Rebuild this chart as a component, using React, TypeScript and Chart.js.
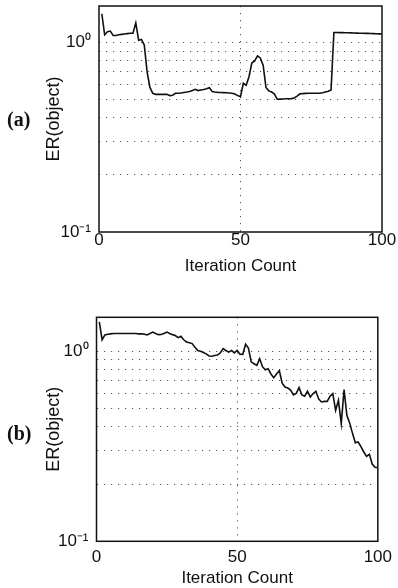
import React, { useEffect, useRef } from 'react';
import { Chart, registerables } from 'chart.js';

Chart.register(...registerables);

// Iteration index (x) shared by both panels
const iterations: number[] = Array.from({ length: 100 }, (_, i) => i + 1);

// Panel (a) ER(object) values
const erA: number[] = [
  1.42, 1.10, 1.14, 1.15, 1.09, 1.09, 1.10, 1.105, 1.11, 1.115,
  1.12, 1.12, 1.27, 1.03, 1.04, 0.97, 0.70, 0.58, 0.54, 0.533,
  0.533, 0.533, 0.533, 0.533, 0.525, 0.527, 0.54, 0.54, 0.542, 0.545,
  0.548, 0.552, 0.558, 0.567, 0.558, 0.562, 0.565, 0.57, 0.578, 0.552,
  0.548, 0.546, 0.545, 0.544, 0.543, 0.542, 0.54, 0.535, 0.525, 0.518,
  0.61, 0.595, 0.66, 0.78, 0.80, 0.85, 0.83, 0.76, 0.58, 0.556,
  0.548, 0.535, 0.502, 0.503, 0.504, 0.505, 0.505, 0.506, 0.51, 0.522,
  0.536, 0.538, 0.539, 0.54, 0.54, 0.54, 0.54, 0.54, 0.543, 0.548,
  0.553, 0.562, 1.13, 1.13, 1.128, 1.128, 1.127, 1.126, 1.125, 1.124,
  1.122, 1.12, 1.12, 1.119, 1.118, 1.116, 1.115, 1.113, 1.112, 1.11,
];

// Panel (b) ER(object) values
const erB: number[] = [
  1.43, 1.15, 1.22, 1.23, 1.235, 1.24, 1.24, 1.24, 1.24, 1.24,
  1.24, 1.24, 1.24, 1.24, 1.235, 1.235, 1.23, 1.22, 1.24, 1.263,
  1.24, 1.224, 1.225, 1.24, 1.263, 1.24, 1.224, 1.21, 1.18, 1.20,
  1.15, 1.12, 1.11, 1.098, 1.05, 1.01, 1.00, 0.985, 0.97, 0.945,
  0.942, 0.95, 0.955, 0.98, 1.033, 1.01, 0.99, 1.01, 0.98, 1.01,
  0.965, 0.964, 1.09, 1.04, 0.88, 0.86, 0.844, 0.915, 0.83, 0.80,
  0.81, 0.76, 0.727, 0.76, 0.79, 0.68, 0.649, 0.641, 0.625, 0.59,
  0.60, 0.644, 0.59, 0.58, 0.616, 0.575, 0.60, 0.616, 0.56, 0.541,
  0.545, 0.545, 0.58, 0.599, 0.489, 0.552, 0.416, 0.629, 0.46, 0.42,
  0.37, 0.33, 0.333, 0.315, 0.295, 0.28, 0.287, 0.255, 0.245, 0.244,
];

const xTickValues: number[] = [0, 50, 100];
const yGridValues: number[] = [0.1, 0.2, 0.3, 0.4, 0.5, 0.6, 0.7, 0.8, 0.9, 1];
const yTickLabels: Record<string, string> = { '1': '10\u2070', '0.1': '10\u207B\u00B9' };
const xTitle = 'Iteration Count';
const yTitle = 'ER(object)';

const W = 398;
const H = 294;
const FONT = '"Liberation Sans", Arial, Helvetica, sans-serif';

type Geom = {
  left: number; right: number; top: number; bottom: number;
  xTitlePad: number; xTickPad: number; panel: string; panelY: number; yMax: number;
};

const geomA: Geom = { left: 99, right: 382, top: 6, bottom: 232, xTitlePad: 17, xTickPad: -2, panel: '(a)', panelY: 121, yMax: 1.56 };
const geomB: Geom = { left: 96.5, right: 378, top: 23.3, bottom: 247.3, xTitlePad: -1, xTickPad: 6, panel: '(b)', panelY: 141, yMax: 1.51 };

const PAD_LEFT = 38;

function Panel({ values, g, top }: { values: number[]; g: Geom; top: number }) {
  const ref = useRef<HTMLCanvasElement | null>(null);
  useEffect(() => {
    if (!ref.current) return;
    const framePlugin = {
      id: 'frame',
      afterDraw(chart: any) {
        const { ctx, chartArea } = chart;
        ctx.save();
        ctx.strokeStyle = '#111';
        ctx.lineWidth = 1.5;
        ctx.strokeRect(chartArea.left, chartArea.top, chartArea.right - chartArea.left, chartArea.bottom - chartArea.top);
        ctx.fillStyle = '#111';
        ctx.font = 'bold 20px "Liberation Serif", "Times New Roman", serif';
        ctx.textAlign = 'left';
        ctx.textBaseline = 'middle';
        ctx.fillText(g.panel, 7, g.panelY);
        ctx.restore();
      },
    };
    const chart = new Chart(ref.current, {
      type: 'line',
      data: {
        datasets: [{
          data: iterations.map((it, i) => ({ x: it, y: values[i] })),
          borderColor: '#111',
          borderWidth: 1.6,
          pointRadius: 0,
          tension: 0,
          fill: false,
        }],
      },
      options: {
        responsive: false,
        animation: false,
        events: [],
        layout: { padding: { left: PAD_LEFT, right: W - g.right, top: g.top, bottom: 0 } },
        plugins: { legend: { display: false }, tooltip: { enabled: false } },
        scales: {
          x: {
            type: 'linear',
            min: 0,
            max: 100,
            afterBuildTicks: (s: any) => { s.ticks = xTickValues.map((v) => ({ value: v })); },
            afterFit: (s: any) => { s.height = H - g.bottom; },
            ticks: { color: '#111', font: { family: FONT, size: 17 }, padding: g.xTickPad, maxRotation: 0 },
            grid: {
              drawTicks: false,
              color: (c: any) => (c.tick && c.tick.value === 50 ? '#555' : 'rgba(0,0,0,0)'),
              lineWidth: 1,
            },
            border: { display: false, dash: [1.2, 5.8] },
            title: { display: true, text: xTitle, color: '#111', font: { family: FONT, size: 17 }, padding: { top: 0, bottom: g.xTitlePad } },
          },
          y: {
            type: 'logarithmic',
            min: 0.1,
            max: g.yMax,
            afterBuildTicks: (s: any) => { s.ticks = yGridValues.map((v) => ({ value: v })); },
            afterFit: (s: any) => {
              s.width = g.left - PAD_LEFT;
              s.paddingTop = 0;
              s.paddingBottom = 0;
            },
            ticks: {
              color: '#111',
              font: { family: FONT, size: 17 },
              padding: 8,
              autoSkip: false,
              callback: (v: any) => yTickLabels[String(Number(v))] ?? '',
            },
            grid: {
              drawTicks: false,
              color: (c: any) => (c.tick && c.tick.value > 0.15 ? '#555' : 'rgba(0,0,0,0)'),
              lineWidth: 1,
            },
            border: { display: false, dash: [1.2, 5.8] },
            title: { display: true, text: yTitle, color: '#111', font: { family: FONT, size: 18 }, padding: { top: 5, bottom: 0 } },
          },
        },
      },
      plugins: [framePlugin],
    } as any);
    return () => chart.destroy();
  }, [values, g]);
  return (
    <canvas
      ref={ref}
      width={W}
      height={H}
      style={{ position: 'absolute', left: 0, top, width: W, height: H, display: 'block' }}
    />
  );
}

export default function App() {
  return (
    <div style={{ position: 'absolute', left: 0, top: 0, width: W, height: 2 * H, background: '#fff' }}>
      <Panel values={erA} g={geomA} top={0} />
      <Panel values={erB} g={geomB} top={H} />
    </div>
  );
}
